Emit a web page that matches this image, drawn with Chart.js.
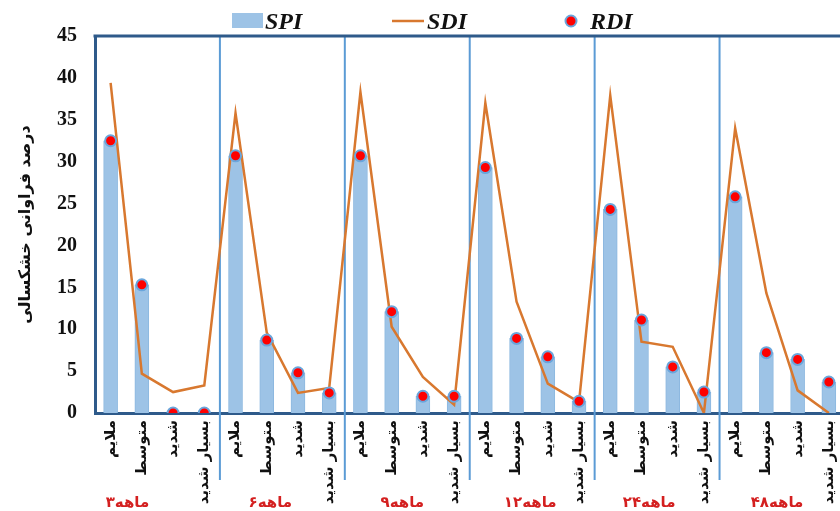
<!DOCTYPE html>
<html>
<head>
<meta charset="utf-8">
<script src="https://cdn.jsdelivr.net/npm/chart.js@4.4.1/dist/chart.umd.min.js"></script>
<style>
  html, body { margin: 0; padding: 0; background: #fff; overflow: hidden; }
  #wrap { width: 854px; height: 511px; }
</style>
</head>
<body>
<div id="wrap"><canvas id="chart" width="854" height="511"></canvas></div>
<script>
// ── Data ─────────────────────────────────────────────────
const severity = ['ملایم', 'متوسط', 'شدید', 'بسیار شدید'];
const periods  = ['۳ماهه', '۶ماهه', '۹ماهه', '۱۲ماهه', '۲۴ماهه', '۴۸ماهه'];
const labels   = periods.flatMap(() => severity);

const spiValues = [32.5, 15.3, 0, 0,   30.7, 8.7, 4.8, 2.4,   30.7, 12.1, 2.0, 2.0,
                   29.3, 8.9, 6.7, 1.4, 24.3, 11.1, 5.5, 2.5, 25.8, 7.2, 6.4, 3.7];
const sdiValues = [39.4, 4.7, 2.5, 3.3, 35.8, 9.6, 2.4, 3.0,  38.3, 10.3, 4.3, 1.0,
                   37.0, 13.3, 3.5, 1.3, 37.9, 8.5, 7.9, 0,   34.0, 14.3, 2.7, 0];
const rdiValues = [32.5, 15.3, 0, 0,   30.7, 8.7, 4.8, 2.4,   30.7, 12.1, 2.0, 2.0,
                   29.3, 8.9, 6.7, 1.4, 24.3, 11.1, 5.5, 2.5, 25.8, 7.2, 6.4, 3.7];

const yTicks = [0, 5, 10, 15, 20, 25, 30, 35, 40, 45];

// ── Style ────────────────────────────────────────────────
const BAR_BLUE   = '#9dc3e6';
const LINE_ORNG  = '#d8782f';
const DOT_RED    = '#ff0000';
const DOT_EDGE   = '#6aa6dc';
const FRAME_BLUE = '#2e5a8a';
const DIV_BLUE   = '#5b9bd5';
const LABEL_RED  = '#d42020';
const groupLabelShift = [-30, -12, -5, -2, -8, -5];

// group dividers, top frame, legend and period labels
const decorations = {
    id: 'decorations',
    beforeDatasetsDraw(chart) {
        const { ctx, chartArea: a, scales: { x } } = chart;
        ctx.save();
        ctx.strokeStyle = DIV_BLUE;
        ctx.lineWidth = 2;
        for (let g = 1; g < periods.length; g++) {
            const px = (x.getPixelForValue(g * 4 - 1) + x.getPixelForValue(g * 4)) / 2;
            ctx.beginPath();
            ctx.moveTo(px, a.top);
            ctx.lineTo(px, 480);
            ctx.stroke();
        }
        ctx.restore();
    },
    afterDraw(chart) {
        const { ctx, chartArea: a, scales: { x } } = chart;
        ctx.save();
        // top frame line
        ctx.strokeStyle = FRAME_BLUE;
        ctx.lineWidth = 3;
        ctx.beginPath();
        ctx.moveTo(a.left - 1.5, a.top);
        ctx.lineTo(chart.width, a.top);
        ctx.stroke();

        // period labels
        ctx.fillStyle = LABEL_RED;
        ctx.font = 'bold 15px "DejaVu Sans"';
        ctx.textAlign = 'center';
        ctx.textBaseline = 'middle';
        periods.forEach((p, g) => {
            const cx = (x.getPixelForValue(g * 4 + 1) + x.getPixelForValue(g * 4 + 2)) / 2;
            ctx.fillText(p, cx + groupLabelShift[g], 503);
        });

        // legend
        ctx.textAlign = 'left';
        ctx.textBaseline = 'alphabetic';
        ctx.font = 'italic bold 24px "Liberation Serif"';
        ctx.fillStyle = BAR_BLUE;
        ctx.fillRect(232, 13, 31, 15);
        ctx.fillStyle = '#111';
        ctx.fillText('SPI', 265, 29);

        ctx.strokeStyle = LINE_ORNG;
        ctx.lineWidth = 2.5;
        ctx.beginPath();
        ctx.moveTo(392, 21);
        ctx.lineTo(424, 21);
        ctx.stroke();
        ctx.fillText('SDI', 427, 29);

        ctx.fillStyle = DOT_RED;
        ctx.strokeStyle = DOT_EDGE;
        ctx.lineWidth = 2;
        ctx.beginPath();
        ctx.arc(571, 21, 5.5, 0, Math.PI * 2);
        ctx.fill();
        ctx.stroke();
        ctx.fillStyle = '#111';
        ctx.fillText('RDI', 590, 29);
        ctx.restore();
    }
};

new Chart(document.getElementById('chart').getContext('2d'), {
    data: {
        labels: labels,
        datasets: [
            {
                type: 'scatter',
                label: 'RDI',
                data: rdiValues.map((v, i) => ({ x: labels[i], y: v })),
                showLine: false,
                pointRadius: 5.5,
                pointBackgroundColor: DOT_RED,
                pointBorderColor: DOT_EDGE,
                pointBorderWidth: 2,
                order: 0
            },
            {
                type: 'line',
                label: 'SDI',
                data: sdiValues,
                borderColor: LINE_ORNG,
                borderWidth: 2.5,
                pointRadius: 0,
                tension: 0,
                order: 1
            },
            {
                type: 'bar',
                label: 'SPI',
                data: spiValues,
                backgroundColor: BAR_BLUE,
                borderColor: '#8cb8e0',
                borderWidth: 1,
                barThickness: 14,
                order: 2
            }
        ]
    },
    options: {
        responsive: false,
        animation: false,
        layout: { padding: { top: 36, right: 4, left: 0, bottom: 0 } },
        plugins: {
            legend: { display: false },
            tooltip: { enabled: false }
        },
        scales: {
            x: {
                type: 'category',
                offset: true,
                grid: { display: false, drawTicks: false },
                border: { display: true, color: FRAME_BLUE, width: 3 },
                ticks: {
                    autoSkip: false,
                    maxRotation: 90,
                    minRotation: 90,
                    padding: 7,
                    color: '#111',
                    font: { family: 'DejaVu Sans', size: 15, weight: 'bold' }
                },
                afterFit: s => { s.height = 98; }
            },
            y: {
                min: 0,
                max: 45,
                afterBuildTicks: s => { s.ticks = yTicks.map(v => ({ value: v })); },
                grid: { display: false, drawTicks: false },
                border: { display: true, color: FRAME_BLUE, width: 3 },
                ticks: {
                    padding: 18,
                    color: '#111',
                    font: { family: 'Liberation Serif', size: 20, weight: 'bold' }
                },
                title: {
                    display: true,
                    text: 'درصد فراوانی خشکسالی',
                    color: '#111',
                    padding: { top: 16, bottom: 0 },
                    font: { family: 'DejaVu Sans', size: 16, weight: 'bold' }
                },
                afterFit: s => { s.width = 95; }
            }
        }
    },
    plugins: [decorations]
});
</script>
</body>
</html>
